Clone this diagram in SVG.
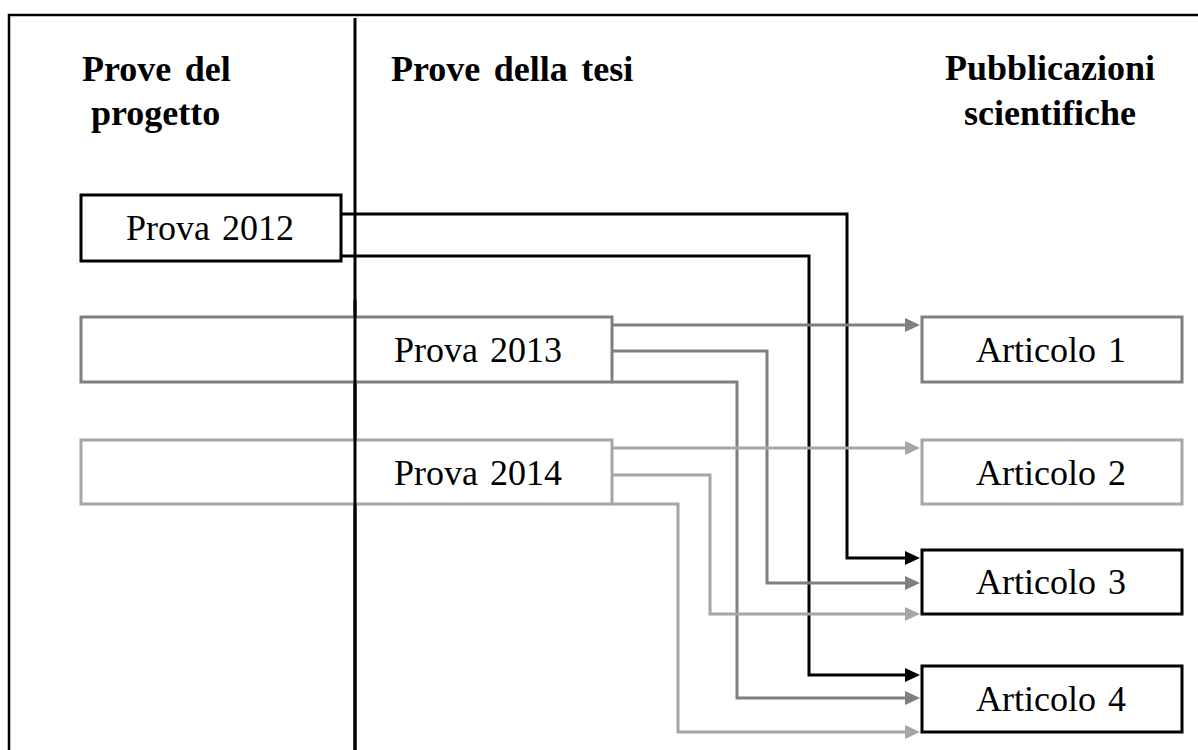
<svg xmlns="http://www.w3.org/2000/svg" width="1198" height="750" viewBox="0 0 1198 750">
<style>
.hdr{font-family:"Liberation Serif","Times New Roman",serif;font-weight:bold;font-size:36px;fill:#000;word-spacing:4.5px}
.lbl{font-family:"Liberation Serif","Times New Roman",serif;font-size:36px;fill:#000;word-spacing:3px}
.box{fill:#fff;stroke-width:3}
.k{stroke:#000}
.m{stroke:#7f7f7f}
.l{stroke:#a6a6a6}
.c{fill:none;stroke-width:3}
</style>
<defs>
<marker id="ak" markerUnits="userSpaceOnUse" viewBox="0 0 15 14" refX="5" refY="7" markerWidth="15" markerHeight="14" orient="auto"><path d="M0,0 L15,7 L0,14 z" fill="#000"/></marker>
<marker id="am" markerUnits="userSpaceOnUse" viewBox="0 0 15 14" refX="5" refY="7" markerWidth="15" markerHeight="14" orient="auto"><path d="M0,0 L15,7 L0,14 z" fill="#7f7f7f"/></marker>
<marker id="al" markerUnits="userSpaceOnUse" viewBox="0 0 15 14" refX="5" refY="7" markerWidth="15" markerHeight="14" orient="auto"><path d="M0,0 L15,7 L0,14 z" fill="#a6a6a6"/></marker>
</defs>
<rect width="1198" height="750" fill="#fff"/>
<g id="frame">
<path d="M9,750 V15 H1198" fill="none" stroke="#000" stroke-width="2.5"/>
<line x1="355" y1="18" x2="355" y2="750" stroke="#000" stroke-width="3"/>
</g>
<g id="headers">
<text class="hdr" x="82" y="81">Prove del</text>
<text class="hdr" x="91" y="125">progetto</text>
<text class="hdr" x="391" y="81">Prove della tesi</text>
<text class="hdr" x="1050" y="80" text-anchor="middle">Pubblicazioni</text>
<text class="hdr" x="1050" y="125" text-anchor="middle">scientifiche</text>
</g>
<g id="prova2013">
<rect class="box m" x="81" y="317" width="531" height="65"/>
<text class="lbl" x="478" y="362" text-anchor="middle">Prova 2013</text>
</g>
<g id="prova2014">
<rect class="box l" x="81" y="440" width="531" height="64"/>
<text class="lbl" x="478" y="485" text-anchor="middle">Prova 2014</text>
</g>
<line x1="355" y1="300" x2="355" y2="750" stroke="#000" stroke-width="3"/>
<g id="prova2012">
<rect class="box k" x="81" y="195" width="260" height="66"/>
<text class="lbl" x="210" y="240" text-anchor="middle">Prova 2012</text>
</g>
<g id="connectors">
<path class="c k" d="M341,214 H847 V558 H910" marker-end="url(#ak)"/>
<path class="c k" d="M341,256 H809 V675 H910" marker-end="url(#ak)"/>
<path class="c m" d="M612,325 H910" marker-end="url(#am)"/>
<path class="c m" d="M612,351 H767 V583 H910" marker-end="url(#am)"/>
<path class="c m" d="M612,382 H737 V698 H910" marker-end="url(#am)"/>
<path class="c l" d="M612,448 H910" marker-end="url(#al)"/>
<path class="c l" d="M612,475 H710 V614 H910" marker-end="url(#al)"/>
<path class="c l" d="M612,504 H678 V732 H910" marker-end="url(#al)"/>
</g>
<g id="articolo1">
<rect class="box m" x="922" y="317" width="260" height="65"/>
<text class="lbl" x="1051" y="362" text-anchor="middle">Articolo 1</text>
</g>
<g id="articolo2">
<rect class="box l" x="922" y="440" width="260" height="64"/>
<text class="lbl" x="1051" y="485" text-anchor="middle">Articolo 2</text>
</g>
<g id="articolo3">
<rect class="box k" x="922" y="550" width="260" height="64"/>
<text class="lbl" x="1051" y="594" text-anchor="middle">Articolo 3</text>
</g>
<g id="articolo4">
<rect class="box k" x="922" y="666" width="260" height="66"/>
<text class="lbl" x="1051" y="711" text-anchor="middle">Articolo 4</text>
</g>
</svg>
